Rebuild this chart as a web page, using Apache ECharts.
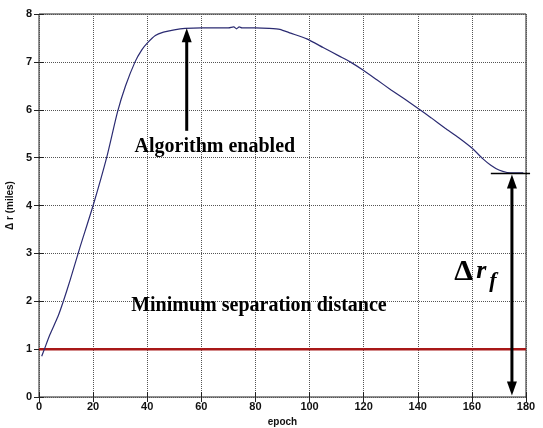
<!DOCTYPE html>
<html>
<head>
<meta charset="utf-8">
<script src="https://cdn.jsdelivr.net/npm/echarts@6/dist/echarts.min.js"></script>
<style>
  html, body { margin: 0; padding: 0; background: #fff; }
  #main { width: 543px; height: 428px; }
</style>
</head>
<body>
<div id="main"></div>
<script>
// curve
var epochs = [1, 2, 4, 7, 9, 11.5, 15, 20, 25, 29, 32, 35.5, 38, 40, 43, 46, 50, 54, 60, 70, 72, 73, 74, 75, 80, 85, 89, 93, 99, 105, 111, 115, 120, 125, 130, 135, 140, 145, 150, 155, 160, 164, 167, 170, 173, 176, 179];
var deltaR = [0.85, 1.0, 1.3, 1.68, 2.0, 2.44, 3.1, 4.0, 5.0, 5.95, 6.5, 7.0, 7.25, 7.39, 7.55, 7.62, 7.67, 7.70, 7.71, 7.71, 7.73, 7.69, 7.73, 7.71, 7.71, 7.70, 7.68, 7.6, 7.48, 7.3, 7.12, 7.0, 6.82, 6.62, 6.42, 6.23, 6.03, 5.83, 5.62, 5.42, 5.2, 4.98, 4.84, 4.74, 4.69, 4.68, 4.68];
var minSepX = [0, 180];
var minSepY = [1, 1];
var algoArrow = [54.6, 5.56, 7.70];   // x, from y, to y
var finalArrow = [174.8, 4.67, 0.03];
var finalTick = [167, 181.5, 4.67];

var curve = epochs.map(function (e, i) { return [e, deltaR[i]]; });
var sep = minSepX.map(function (e, i) { return [e, minSepY[i]]; });

var myChart = echarts.init(document.getElementById('main'));
var tickFont = { color: '#111', fontSize: 11, fontFamily: 'Liberation Sans', fontWeight: 'bold' };
var gridLine = { show: true, lineStyle: { type: 'dotted', color: '#555', width: 1 } };

var option = {
    backgroundColor: '#fff',
    animation: false,
    grid: { left: 39, right: 17, top: 14, bottom: 31, outerBoundsMode: 'none', show: true, borderColor: '#222', borderWidth: 1 },
    xAxis: [{
        type: 'value', min: 0, max: 180, interval: 20,
        name: 'epoch', nameLocation: 'middle', nameGap: 16,
        nameTextStyle: { color: '#111', fontSize: 10, fontFamily: 'Liberation Sans', fontWeight: 'bold' },
        axisLine: { show: false },
        axisTick: { inside: true, length: 5, lineStyle: { color: '#222' } },
        axisLabel: Object.assign({ margin: 4 }, tickFont),
        splitLine: gridLine
    }, {
        type: 'value', min: 0, max: 180, interval: 20, position: 'top',
        axisLine: { show: false }, axisLabel: { show: false }, splitLine: { show: false },
        axisTick: { inside: true, length: 5, lineStyle: { color: '#222' } }
    }],
    yAxis: [{
        type: 'value', min: 0, max: 8, interval: 1,
        name: 'Δ r (miles)', nameLocation: 'middle', nameGap: 22,
        nameTextStyle: { color: '#111', fontSize: 10, fontFamily: 'Liberation Sans', fontWeight: 'bold' },
        axisLine: { show: false },
        axisTick: { inside: true, length: 5, lineStyle: { color: '#222' } },
        axisLabel: Object.assign({ margin: 7 }, tickFont),
        splitLine: gridLine
    }, {
        type: 'value', min: 0, max: 8, interval: 1, position: 'right',
        axisLine: { show: false }, axisLabel: { show: false }, splitLine: { show: false },
        axisTick: { inside: true, length: 5, lineStyle: { color: '#222' } }
    }],
    series: [{
        name: 'min separation', type: 'line', data: sep, symbol: 'none',
        lineStyle: { color: '#a81818', width: 2.5 }, z: 3
    }, {
        name: 'delta r', type: 'line', data: curve, symbol: 'none', smooth: 0.2,
        lineStyle: { color: '#2b2b72', width: 1.2 }, z: 4
    }]
};
myChart.setOption(option);

// annotations placed through the chart's own scales
function px(x, y) { return myChart.convertToPixel({ gridIndex: 0 }, [x, y]); }
function arrowHead(p, dir) {
    // dir: -1 points up, 1 points down
    return { type: 'polygon', shape: { points: [[p[0], p[1]], [p[0] - 5, p[1] - dir * 14], [p[0] + 5, p[1] - dir * 14]] },
             style: { fill: '#000' }, z: 10 };
}
var a0 = px(algoArrow[0], algoArrow[1]), a1 = px(algoArrow[0], algoArrow[2]);
var f0 = px(finalArrow[0], finalArrow[1]), f1 = px(finalArrow[0], finalArrow[2]);
var t0 = px(finalTick[0], finalTick[2]), t1 = px(finalTick[1], finalTick[2]);
var algoTxt = px(65, 5.22), minTxt = px(81.3, 1.9), drTxt = px(153.5, 2.6);

myChart.setOption({
    graphic: [
        { type: 'line', shape: { x1: a0[0], y1: a0[1], x2: a1[0], y2: a1[1] + 10 }, style: { stroke: '#000', lineWidth: 3 }, z: 10 },
        arrowHead(a1, -1),
        { type: 'line', shape: { x1: f0[0], y1: f0[1] + 10, x2: f1[0], y2: f1[1] - 10 }, style: { stroke: '#000', lineWidth: 3 }, z: 10 },
        arrowHead([f0[0], f0[1] + 1], -1),
        arrowHead(f1, 1),
        { type: 'line', shape: { x1: t0[0], y1: t0[1], x2: t1[0], y2: t1[1] }, style: { stroke: '#000', lineWidth: 1.5 }, z: 10 },
        { type: 'text', x: algoTxt[0], y: algoTxt[1], z: 11,
          style: { text: 'Algorithm enabled', fill: '#000', font: 'bold 20px "Liberation Serif"', align: 'center', verticalAlign: 'middle' } },
        { type: 'text', x: minTxt[0], y: minTxt[1], z: 11,
          style: { text: 'Minimum separation distance', fill: '#000', font: 'bold 20px "Liberation Serif"', align: 'center', verticalAlign: 'middle' } },
        { type: 'text', x: drTxt[0], y: drTxt[1], z: 11,
          style: { text: 'Δ', fill: '#000', font: 'bold 30px "Liberation Serif"', align: 'left', verticalAlign: 'middle' } },
        { type: 'text', x: drTxt[0] + 22, y: drTxt[1] - 1, z: 11,
          style: { text: 'r', fill: '#000', font: 'bold italic 26px "Liberation Serif"', align: 'left', verticalAlign: 'middle' } },
        { type: 'text', x: drTxt[0] + 35, y: drTxt[1] + 9, z: 11,
          style: { text: 'f', fill: '#000', font: 'bold italic 22px "Liberation Serif"', align: 'left', verticalAlign: 'middle' } }
    ]
});
</script>
</body>
</html>
